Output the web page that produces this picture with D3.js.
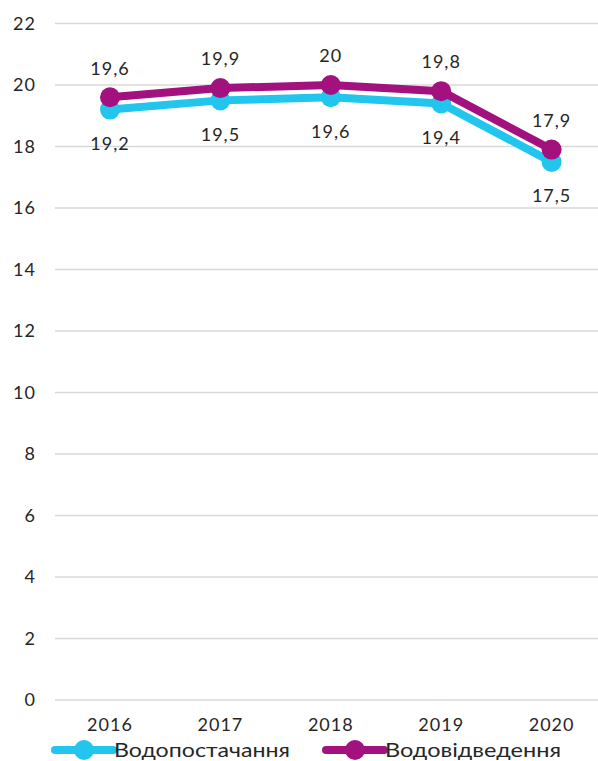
<!DOCTYPE html>
<html>
<head>
<meta charset="utf-8">
<script src="https://cdn.jsdelivr.net/npm/d3@7"></script>
<style>
  body { margin: 0; background: #fff; }
  text { font-family: "Century Gothic", "Lato", sans-serif; fill: #262626; letter-spacing: 1px; }
</style>
</head>
<body>
<svg id="chart" width="598" height="761"></svg>
<script>
const years = ['2016', '2017', '2018', '2019', '2020'];
const supply = [19.2, 19.5, 19.6, 19.4, 17.5];     // Водопостачання
const drainage = [19.6, 19.9, 20, 19.8, 17.9];     // Водовідведення
const yTicks = [0, 2, 4, 6, 8, 10, 12, 14, 16, 18, 20, 22];
const seriesNames = ['Водопостачання', 'Водовідведення'];
const colors = ['#22c5ee', '#a3117f'];

const svg = d3.select('#chart');
const fmt = v => String(v).replace('.', ',');

const x = d3.scalePoint().domain(years).range([110, 551.6]);
const y = d3.scaleLinear().domain([0, 22]).range([700, 23.5]);

// gridlines
svg.append('g').selectAll('line').data(yTicks).join('line')
  .attr('x1', 55).attr('x2', 598)
  .attr('y1', d => y(d)).attr('y2', d => y(d))
  .attr('stroke', '#d9d9d9').attr('stroke-width', 1.3);

// y labels
svg.append('g').selectAll('text').data(yTicks).join('text')
  .attr('x', 36).attr('y', d => y(d)).attr('dy', '0.35em')
  .attr('text-anchor', 'end').attr('font-size', 18)
  .text(d => d);

// x labels
svg.append('g').selectAll('text').data(years).join('text')
  .attr('x', d => x(d)).attr('y', 725).attr('dy', '0.35em')
  .attr('text-anchor', 'middle').attr('font-size', 18)
  .text(d => d);

const line = d3.line().x((d, i) => x(years[i])).y(d => y(d));

[supply, drainage].forEach((vals, s) => {
  const g = svg.append('g');
  g.append('path').datum(vals)
    .attr('d', line).attr('fill', 'none')
    .attr('stroke', colors[s]).attr('stroke-width', 8)
    .attr('stroke-linejoin', 'round').attr('stroke-linecap', 'round');
  g.selectAll('circle').data(vals).join('circle')
    .attr('cx', (d, i) => x(years[i])).attr('cy', d => y(d))
    .attr('r', 10).attr('fill', colors[s]);
});

// value labels: supply below, drainage above
svg.append('g').selectAll('text').data(supply).join('text')
  .attr('x', (d, i) => x(years[i])).attr('y', d => y(d) + 34).attr('dy', '0.35em')
  .attr('text-anchor', 'middle').attr('font-size', 18)
  .text(fmt);
svg.append('g').selectAll('text').data(drainage).join('text')
  .attr('x', (d, i) => x(years[i])).attr('y', d => y(d) - 29).attr('dy', '0.35em')
  .attr('text-anchor', 'middle').attr('font-size', 18)
  .text(fmt);

// legend
const legendX = [55, 326];
const legend = svg.append('g').selectAll('g').data(seriesNames).join('g')
  .attr('transform', (d, i) => `translate(${legendX[i]},750)`);
legend.append('line')
  .attr('x1', 0).attr('x2', 58).attr('y1', 0).attr('y2', 0)
  .attr('stroke', (d, i) => colors[i]).attr('stroke-width', 8)
  .attr('stroke-linecap', 'round');
legend.append('circle')
  .attr('cx', 29).attr('cy', 0).attr('r', 10)
  .attr('fill', (d, i) => colors[i]);
legend.append('text')
  .attr('x', 59).attr('y', 0).attr('dy', '0.35em')
  .attr('font-size', 19).style('letter-spacing', '0px')
  .attr('textLength', 176).attr('lengthAdjust', 'spacingAndGlyphs')
  .text(d => d);
</script>
</body>
</html>
